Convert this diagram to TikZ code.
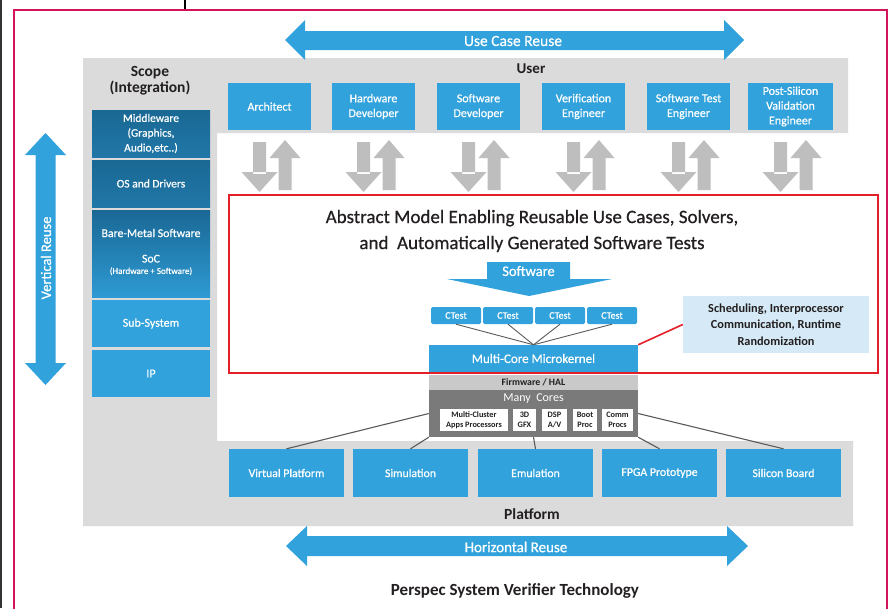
\documentclass[tikz,border=0pt]{standalone}
\usepackage{fontspec}
\setmainfont{Carlito}
\newfontfamily\semi[FakeBold=0.6]{Carlito}
\definecolor{cblue}{HTML}{31A2DB}
\definecolor{cdarkA}{HTML}{1A6894}
\definecolor{cdarkB}{HTML}{2077A7}
\definecolor{cmidB}{HTML}{2E9AD3}
\definecolor{ccall}{HTML}{D5EAF6}
\definecolor{ccores}{HTML}{7A7A7A}
\definecolor{cfirm}{HTML}{C9C9C9}
\definecolor{cband}{HTML}{DBDBDB}
\definecolor{carrg}{HTML}{BEBEBE}
\definecolor{ccrim}{HTML}{D2145A}
\definecolor{cred}{HTML}{E3202A}
\definecolor{ctext}{HTML}{231F20}
\definecolor{cline}{HTML}{5A5A5A}
\tikzset{
  span/.style n args={4}{at={({(#1+#3)/2},{(#2+#4)/2})}, minimum width={#3-#1}, minimum height={#4-#2}},
  bx/.style={inner sep=0pt, align=center, text=white, font=\semi\fontsize{12}{14.8}\selectfont},
  bluebx/.style={bx, fill=cblue},
  darkbx/.style={bx, top color=cdarkA, bottom color=cdarkB, font=\semi\fontsize{11.5}{14.8}\selectfont},
  platbx/.style={bx, fill=cblue, font=\semi\fontsize{11.8}{13}\selectfont},
  ctestbx/.style={bx, fill=cblue, rounded corners=1.5pt, font=\semi\fontsize{10}{11}\selectfont},
  corebx/.style={inner sep=0pt, align=center, fill=white, text=ctext, font=\bfseries\fontsize{8.3}{10.5}\selectfont},
  lbl/.style={inner sep=0pt, align=center, text=ctext},
  wlbl/.style={inner sep=0pt, align=center, text=white},
  conn/.style={draw=cline, line width=1.1pt},
}
\begin{document}
\begin{tikzpicture}[x=1pt,y=-1pt]
\useasboundingbox (0,0) rectangle (894,608);
\fill[white] (0,0) rectangle (894,608);
% outer frame bits
\fill[black!80] (0,0) rectangle (2,608);
\draw[black, line width=1.6pt] (185,0) -- (185,9);
\draw[ccrim, line width=2.4pt] (14,10) rectangle (887,615);

% gray band
\fill[cband] (83,58) -- (848,58) -- (848,133) -- (217,133) -- (217,441) -- (853,441) -- (853,526) -- (83,526) -- cycle;

% Use case reuse arrow
\fill[cblue] (285,40) -- (305,20) -- (305,31) -- (724,31) -- (724,20) -- (744,40) -- (724,60) -- (724,50) -- (305,50) -- (305,60) -- cycle;
\node[wlbl, font=\semi\fontsize{15.5}{16}\selectfont] (ucr) at (513,41) {Use Case Reuse};

% Horizontal reuse arrow
\fill[cblue] (286,546) -- (307,526) -- (307,536) -- (727,536) -- (727,526) -- (748,546) -- (727,566) -- (727,556) -- (307,556) -- (307,566) -- cycle;
\node[wlbl, font=\semi\fontsize{15}{16}\selectfont] (hr) at (516,547) {Horizontal Reuse};

% Vertical reuse arrow
\fill[cblue] (45.5,133) -- (66,155) -- (55.5,155) -- (55.5,363) -- (66,363) -- (45.5,385) -- (25,363) -- (35.5,363) -- (35.5,155) -- (25,155) -- cycle;
\node[wlbl, font=\semi\fontsize{14.5}{15}\selectfont, rotate=90] (vr) at (46,258) {Vertical Reuse};

% labels
\node[lbl, font=\bfseries\fontsize{15.5}{16}\selectfont] (scope) at (150,81) {Scope\\(Integration)};
\node[lbl, font=\bfseries\fontsize{15}{16}\selectfont] (user) at (531,69) {User};
\node[lbl, font=\bfseries\fontsize{15.5}{16}\selectfont] (plat) at (532,514) {Platform};
\node[lbl, font=\bfseries\fontsize{17}{18}\selectfont] (persp) at (515,591) {Perspec System Verifier Technology};

% left column
\node[darkbx, span={92}{110}{210}{157}] (mw) {Middleware\\(Graphics,\\Audio,etc..)};
\node[darkbx, span={92}{160}{210}{207}] (os) {OS and Drivers};
\node[bx, top color=cdarkA, bottom color=cmidB, span={92}{210}{210}{297}] (bm) {};
\node[wlbl, font=\semi\fontsize{11.8}{13}\selectfont] (bmt) at (151,233) {Bare-Metal Software};
\node[wlbl, font=\semi\fontsize{11.8}{12}\selectfont] (soc) at (151,265) {SoC\\[-0.5pt]{\fontsize{9}{10}\selectfont (Hardware + Software)}};
\node[bluebx, span={92}{300}{210}{347}] (ss) {Sub-System};
\node[bluebx, span={92}{350}{210}{397}] (ip) {IP};

% user boxes
\node[bluebx, span={228}{83}{311}{130}] (u1) {Architect};
\node[bluebx, span={332}{83}{415}{130}] (u2) {Hardware\\Developer};
\node[bluebx, span={437}{83}{520}{130}] (u3) {Software\\Developer};
\node[bluebx, span={542}{83}{625}{130}] (u4) {Verification\\Engineer};
\node[bluebx, span={647}{83}{730}{130}] (u5) {Software Test\\Engineer};
\node[bluebx, span={748}{83}{833}{130}] (u6) {Post-Silicon\\Validation\\Engineer};

% gray up/down arrows
\foreach \c in {269.5,373.5,478.5,583.5,688.5,790.5} {
  \fill[carrg] (\c-16.5,142) rectangle (\c-3.5,174)
               (\c-28,172) -- (\c+8,172) -- (\c-10,192) -- cycle;
  \fill[carrg] (\c+15.5,140) -- (\c+31,158) -- (\c+22,158) -- (\c+22,190)
               -- (\c+9,190) -- (\c+9,158) -- (\c+0,158) -- cycle;
}

% title
\node[lbl, font=\semi\fontsize{19}{26}\selectfont] (title) at (532,231) {Abstract Model Enabling Reusable Use Cases, Solvers,\\and\ \ Automatically Generated Software Tests};

% software arrow
\fill[cblue] (487,262) -- (570,262) -- (570,279) -- (612,279) -- (529,296) -- (447,279) -- (487,279) -- cycle;
\node[wlbl, font=\semi\fontsize{14.5}{15}\selectfont] (sw) at (528.5,271) {Software};

% CTests
\node[ctestbx, span={431}{307}{481}{324}] (t1) {CTest};
\node[ctestbx, span={483}{307}{533}{324}] (t2) {CTest};
\node[ctestbx, span={535}{307}{585}{324}] (t3) {CTest};
\node[ctestbx, span={587}{307}{637}{324}] (t4) {CTest};

% microkernel
\node[bluebx, font=\semi\fontsize{13}{14}\selectfont, span={429}{345}{638}{372}] (mk) {Multi-Core Microkernel};
\foreach \t in {t1,t2,t3,t4} \draw[conn, line width=0.9pt] (\t.south) -- (mk.north);

% callout
\node[lbl, fill=ccall, font=\bfseries\fontsize{12.3}{16.5}\selectfont, span={683}{296}{869}{353}] (call) {Scheduling, Interprocessor\\Communication, Runtime\\Randomization};
\draw[cred, line width=1.6pt] (mk.north east) -- (call.west);

% red box
\draw[cred, line width=2.8pt] (229,195) rectangle (878,373);

% firmware / cores
\node[lbl, fill=cfirm, font=\bfseries\fontsize{9.8}{10}\selectfont, span={429}{374.5}{638}{390}] (fw) {Firmware / HAL};
\node[fill=ccores, inner sep=0pt, span={429}{390}{638}{437}] (cores) {};
\node[wlbl, font=\fontsize{12}{12}\selectfont] (mct) at (533.5,399) {Many\ \ Cores};
\node[corebx, span={440}{409}{508}{431}] (c1) {Multi-Cluster\\Apps Processors};
\node[corebx, span={513}{409}{536}{431}] (c2) {3D\\GFX};
\node[corebx, span={542}{409}{567}{431}] (c3) {DSP\\A/V};
\node[corebx, span={573}{409}{597}{431}] (c4) {Boot\\Proc};
\node[corebx, span={602}{409}{633}{431}] (c5) {Comm\\Procs};

% platforms
\node[platbx, span={229}{449}{344}{497}] (p1) {Virtual Platform};
\node[platbx, span={353}{449}{468}{497}] (p2) {Simulation};
\node[platbx, span={478}{449}{593}{497}] (p3) {Emulation};
\node[platbx, span={602}{449}{717}{497}] (p4) {FPGA Prototype};
\node[platbx, span={726}{449}{841}{497}] (p5) {Silicon Board};

\draw[conn] (cores.west) -- (p1.north);
\draw[conn] (cores.south west) -- (p2.north);
\draw[conn] (cores.south) -- (p3.north);
\draw[conn] (cores.south east) -- (p4.north);
\draw[conn] (cores.east) -- (p5.north);
\end{tikzpicture}
\end{document}
